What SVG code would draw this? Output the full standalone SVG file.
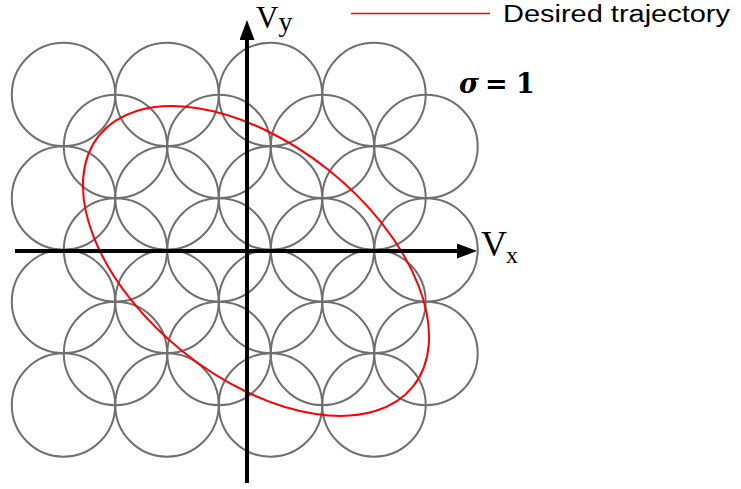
<svg xmlns="http://www.w3.org/2000/svg" width="741" height="489" viewBox="0 0 741 489">
<style>
.c{fill:none;stroke:#6f6f6f;stroke-width:2}
.ax{stroke:#000;stroke-width:4;fill:none}
.tr{fill:none;stroke:#ff0000;stroke-width:2}
.lbl{font-family:"Liberation Serif","Times New Roman",serif;fill:#000}
.m{font-family:"DejaVu Serif","Liberation Serif",serif;font-weight:bold;font-size:27px;fill:#000}
</style>
<defs>
<marker id="ah" markerUnits="userSpaceOnUse" markerWidth="20" markerHeight="15" refX="11" refY="7.5" orient="auto">
<path d="M0,0 L20,7.5 L0,15 z" fill="#000"/>
</marker>
</defs>
<g id="grid-big">
<circle class="c" cx="63.5" cy="94.5" r="51.7"/><circle class="c" cx="167" cy="94.5" r="51.7"/><circle class="c" cx="270.5" cy="94.5" r="51.7"/><circle class="c" cx="374" cy="94.5" r="51.7"/>
<circle class="c" cx="63.5" cy="198" r="51.7"/><circle class="c" cx="167" cy="198" r="51.7"/><circle class="c" cx="270.5" cy="198" r="51.7"/><circle class="c" cx="374" cy="198" r="51.7"/>
<circle class="c" cx="63.5" cy="301.5" r="51.7"/><circle class="c" cx="167" cy="301.5" r="51.7"/><circle class="c" cx="270.5" cy="301.5" r="51.7"/><circle class="c" cx="374" cy="301.5" r="51.7"/>
<circle class="c" cx="63.5" cy="405" r="51.7"/><circle class="c" cx="167" cy="405" r="51.7"/><circle class="c" cx="270.5" cy="405" r="51.7"/><circle class="c" cx="374" cy="405" r="51.7"/>
</g>
<g id="grid-offset">
<circle class="c" cx="115.5" cy="146.5" r="51.7"/><circle class="c" cx="219" cy="146.5" r="51.7"/><circle class="c" cx="322.5" cy="146.5" r="51.7"/><circle class="c" cx="426" cy="146.5" r="51.7"/>
<circle class="c" cx="115.5" cy="250" r="51.7"/><circle class="c" cx="219" cy="250" r="51.7"/><circle class="c" cx="322.5" cy="250" r="51.7"/><circle class="c" cx="426" cy="250" r="51.7"/>
<circle class="c" cx="115.5" cy="353.5" r="51.7"/><circle class="c" cx="219" cy="353.5" r="51.7"/><circle class="c" cx="322.5" cy="353.5" r="51.7"/><circle class="c" cx="426" cy="353.5" r="51.7"/>
</g>
<g id="trajectory">
<ellipse class="tr" cx="256" cy="261" rx="201" ry="116.4" transform="rotate(38.6 256 261)"/>
</g>
<g id="connectors">
<line class="ax" x1="15" y1="251" x2="468" y2="251" marker-end="url(#ah)"/>
<line class="ax" x1="247" y1="483" x2="247" y2="29" marker-end="url(#ah)"/>
</g>
<g id="labels">
<text class="lbl" x="256" y="28" font-size="31">V<tspan font-size="28" dy="2.5">y</tspan></text>
<text class="lbl" x="481" y="255.7" font-size="36">V<tspan font-size="24" dy="6.8" dx="-1">x</tspan></text>
<text class="m" x="459" y="93.3"><tspan font-style="italic">σ</tspan><tspan x="485">=</tspan><tspan x="516">1</tspan></text>
</g>
<g id="legend">
<line x1="351" y1="13.5" x2="490" y2="13.5" stroke="#ff0000" stroke-width="1.3"/>
<text x="503" y="22" font-family="'Liberation Sans',Arial,sans-serif" font-size="23" textLength="227" lengthAdjust="spacingAndGlyphs">Desired trajectory</text>
</g>
</svg>
